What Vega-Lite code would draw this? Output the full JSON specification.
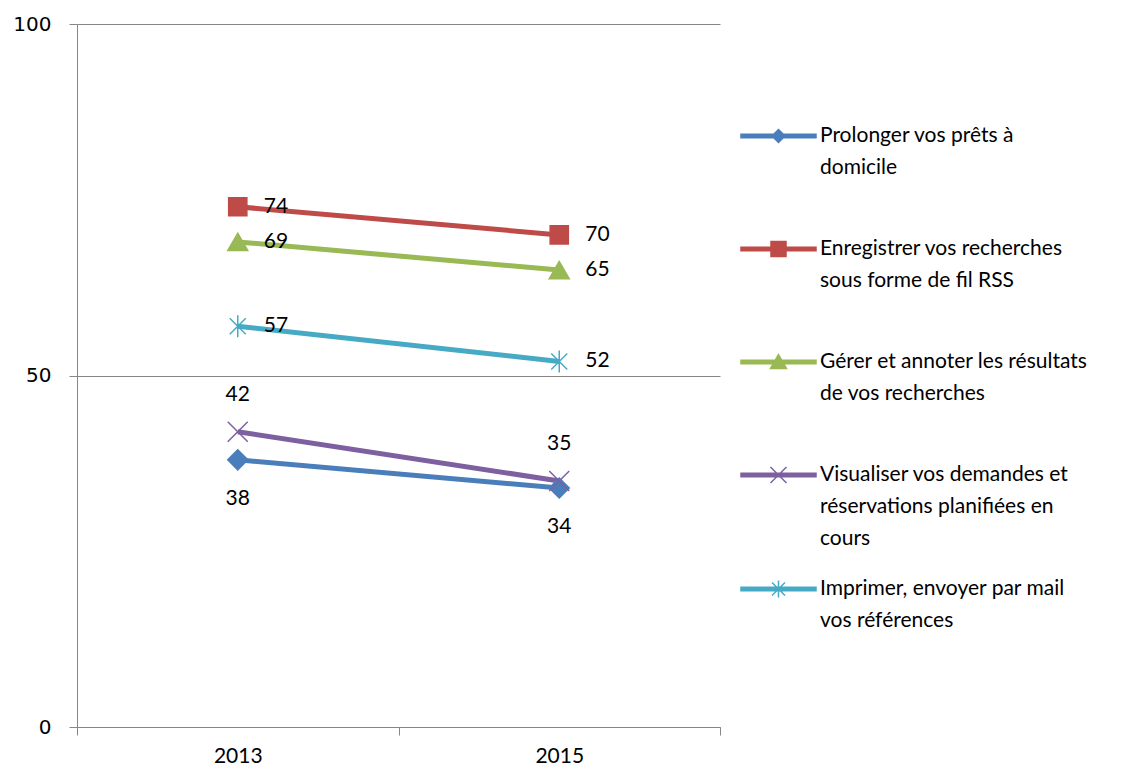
{
  "$schema": "https://vega.github.io/schema/vega-lite/v6.json",
  "width": 643,
  "height": 703,
  "autosize": {"type": "none"},
  "padding": {"left": 77, "top": 24, "right": 422, "bottom": 46},
  "background": "white",
  "config": {"view": {"stroke": null}, "font": "Lato"},
  "data": {
    "values": [
      {"series": "Prolonger vos prêts à domicile", "year": "2013", "value": 38},
      {"series": "Prolonger vos prêts à domicile", "year": "2015", "value": 34},
      {"series": "Enregistrer vos recherches sous forme de fil RSS", "year": "2013", "value": 74},
      {"series": "Enregistrer vos recherches sous forme de fil RSS", "year": "2015", "value": 70},
      {"series": "Gérer et annoter les résultats de vos recherches", "year": "2013", "value": 69},
      {"series": "Gérer et annoter les résultats de vos recherches", "year": "2015", "value": 65},
      {"series": "Visualiser vos demandes et réservations planifiées en cours", "year": "2013", "value": 42},
      {"series": "Visualiser vos demandes et réservations planifiées en cours", "year": "2015", "value": 35},
      {"series": "Imprimer, envoyer par mail vos références", "year": "2013", "value": 57},
      {"series": "Imprimer, envoyer par mail vos références", "year": "2015", "value": 52}
    ]
  },
  "encoding": {
    "x": {
      "field": "year", "type": "ordinal",
      "scale": {"paddingInner": 0, "paddingOuter": 0},
      "axis": {
        "title": null, "labelAngle": 0, "tickBand": "extent",
        "domainColor": "#868686", "tickColor": "#868686", "tickSize": 8,
        "labelFont": "Lato", "labelFontSize": 21, "labelColor": "black",
        "labelPadding": 10, "grid": false
      }
    },
    "y": {
      "field": "value", "type": "quantitative",
      "scale": {"domain": [0, 100], "nice": false},
      "axis": {
        "title": null, "values": [0, 50, 100],
        "domainColor": "#868686", "tickColor": "#868686", "tickSize": 8,
        "gridColor": "#868686", "grid": true,
        "labelFont": "DejaVu Sans", "labelFontSize": 20, "labelColor": "black",
        "labelPadding": 18
      }
    },
    "color": {
      "field": "series", "type": "nominal",
      "scale": {
        "domain": [
          "Prolonger vos prêts à domicile",
          "Enregistrer vos recherches sous forme de fil RSS",
          "Gérer et annoter les résultats de vos recherches",
          "Visualiser vos demandes et réservations planifiées en cours",
          "Imprimer, envoyer par mail vos références"
        ],
        "range": ["#4A7EBB", "#BE4B48", "#98B954", "#7D60A0", "#46AAC5"]
      },
      "legend": {
        "orient": "none", "legendX": 690.5, "legendY": 101,
        "title": null, "padding": 0, "symbolSize": 400,
        "labelFont": "Lato", "labelFontSize": 21, "labelColor": "black",
        "labelOffset": 30.5, "labelLimit": 400, "rowPadding": 28,
        "labelBaseline": "top",
        "labelExpr": "datum.label == 'Prolonger vos prêts à domicile' ? ['Prolonger vos prêts à', 'domicile', ' '] : datum.label == 'Enregistrer vos recherches sous forme de fil RSS' ? ['Enregistrer vos recherches', 'sous forme de fil RSS', ' '] : datum.label == 'Gérer et annoter les résultats de vos recherches' ? ['Gérer et annoter les résultats', 'de vos recherches', ' '] : datum.label == 'Visualiser vos demandes et réservations planifiées en cours' ? ['Visualiser vos demandes et', 'réservations planifiées en', 'cours'] : ['Imprimer, envoyer par mail', 'vos références', ' ']",
        "encoding": {
          "symbols": {
            "shape": {"value": {"expr": "['M-3.75,-0.18L3.75,-0.18L3.75,0.18L-3.75,0.18Z M0,-0.65L0.65,0L0,0.65L-0.65,0Z', 'M-3.75,-0.18L3.75,-0.18L3.75,0.18L-3.75,0.18Z M-0.75,-0.75L0.75,-0.75L0.75,0.75L-0.75,0.75Z', 'M-3.75,-0.18L3.75,-0.18L3.75,0.18L-3.75,0.18Z M0,-0.75L0.8,0.65L-0.8,0.65Z', 'M-3.75,-0.18L3.75,-0.18L3.75,0.18L-3.75,0.18Z M-0.8,-0.8L0.8,0.8M0.8,-0.8L-0.8,0.8', 'M-3.75,-0.18L3.75,-0.18L3.75,0.18L-3.75,0.18Z M-0.65,-0.65L0.65,0.65M0.65,-0.65L-0.65,0.65M0,-0.85L0,0.85'][indexof(domain('color'), datum.value)]"}},
            "fill": {"value": {"expr": "scale('color', datum.value)"}},
            "stroke": {"value": {"expr": "scale('color', datum.value)"}},
            "strokeWidth": {"value": 1.5},
            "opacity": {"value": 1}
          },
          "labels": {
            "lineHeight": {"value": 32},
            "dy": {"value": -11}
          }
        }
      }
    }
  },
  "layer": [
    {"mark": {"type": "line", "strokeWidth": 5}},
    {
      "transform": [{"filter": "datum.series == 'Prolonger vos prêts à domicile'"}],
      "mark": {"type": "point", "filled": true, "opacity": 1, "strokeWidth": 1.5, "size": 400, "shape": "diamond", "stroke": "#4A7EBB"}
    },
    {
      "transform": [{"filter": "datum.series == 'Enregistrer vos recherches sous forme de fil RSS'"}],
      "mark": {"type": "point", "filled": true, "opacity": 1, "strokeWidth": 1.5, "size": 330, "shape": "square", "stroke": "#BE4B48"}
    },
    {
      "transform": [{"filter": "datum.series == 'Gérer et annoter les résultats de vos recherches'"}],
      "mark": {"type": "point", "filled": true, "opacity": 1, "strokeWidth": 1.5, "size": 400, "shape": "triangle-up", "stroke": "#98B954"}
    },
    {
      "transform": [{"filter": "datum.series == 'Visualiser vos demandes et réservations planifiées en cours'"}],
      "mark": {"type": "point", "filled": true, "opacity": 1, "strokeWidth": 1.5, "size": 400, "shape": "M-1,-1L1,1M1,-1L-1,1", "stroke": "#7D60A0"}
    },
    {
      "transform": [{"filter": "datum.series == 'Imprimer, envoyer par mail vos références'"}],
      "mark": {"type": "point", "filled": true, "opacity": 1, "strokeWidth": 1.5, "size": 400, "shape": "M-0.8,-0.8L0.8,0.8M0.8,-0.8L-0.8,0.8M0,-1.1L0,1.1", "stroke": "#46AAC5"}
    },
    {
      "transform": [{"filter": "indexof(['Enregistrer vos recherches sous forme de fil RSS', 'Gérer et annoter les résultats de vos recherches', 'Imprimer, envoyer par mail vos références'], datum.series) >= 0"}],
      "mark": {"type": "text", "align": "left", "baseline": "middle", "dx": 26, "fontSize": 21, "font": "Lato"},
      "encoding": {"text": {"field": "value", "type": "quantitative"}, "color": {"value": "black"}}
    },
    {
      "transform": [{"filter": "datum.series == 'Visualiser vos demandes et réservations planifiées en cours'"}],
      "mark": {"type": "text", "align": "center", "baseline": "middle", "dy": -37, "fontSize": 21, "font": "Lato"},
      "encoding": {"text": {"field": "value", "type": "quantitative"}, "color": {"value": "black"}}
    },
    {
      "transform": [{"filter": "datum.series == 'Prolonger vos prêts à domicile'"}],
      "mark": {"type": "text", "align": "center", "baseline": "middle", "dy": 39, "fontSize": 21, "font": "Lato"},
      "encoding": {"text": {"field": "value", "type": "quantitative"}, "color": {"value": "black"}}
    }
  ]
}
